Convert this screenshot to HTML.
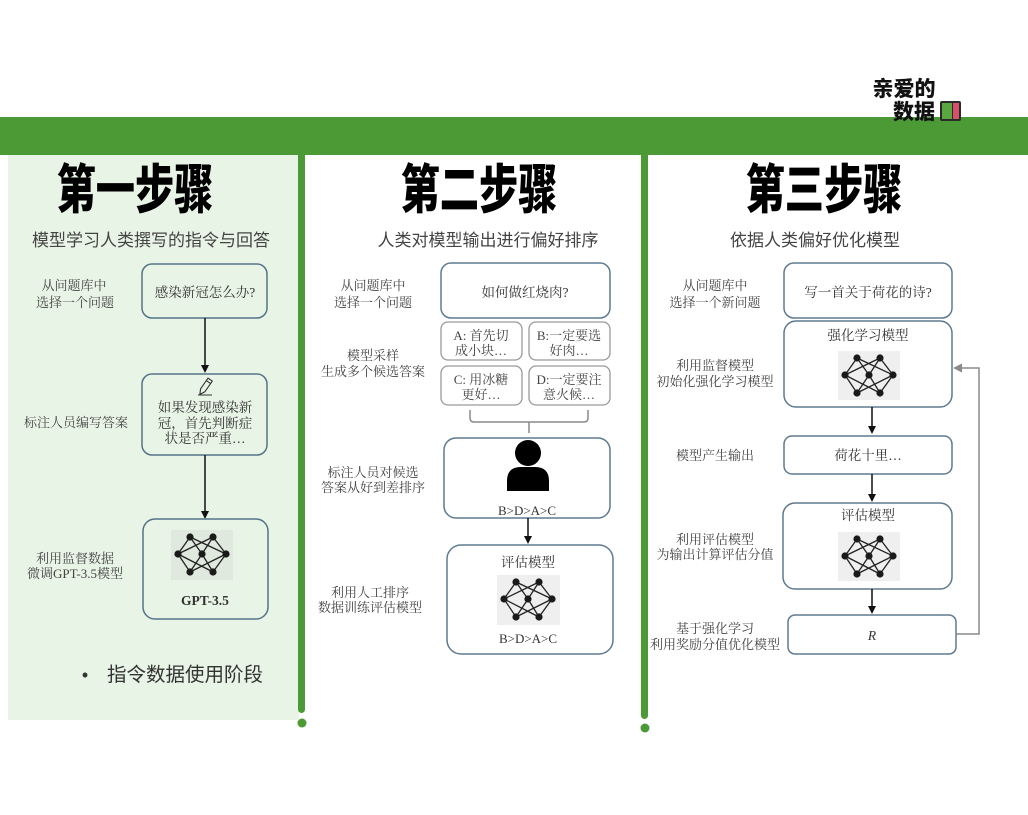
<!DOCTYPE html>
<html><head><meta charset="utf-8">
<style>
html,body{margin:0;padding:0;background:#fff;}
svg{display:block;}
.s{font-family:"Liberation Serif","Noto Serif CJK SC",serif;fill:#444;font-size:13px;text-anchor:middle;}
.b{font-family:"Liberation Serif","Noto Serif CJK SC",serif;fill:#333;font-size:13.5px;text-anchor:middle;}
.t{font-family:"Liberation Sans","Noto Sans CJK SC",sans-serif;font-weight:900;fill:#000;font-size:53px;text-anchor:middle;}
.st{font-family:"Liberation Sans","Noto Sans CJK SC",sans-serif;fill:#444;font-size:17px;text-anchor:middle;}
</style></head>
<body>
<svg width="1028" height="815" viewBox="0 0 1028 815" xmlns="http://www.w3.org/2000/svg">
<!-- green band -->
<rect x="0" y="117" width="1028" height="38" fill="#4b9a35"/>
<!-- left panel -->
<rect x="8" y="155" width="291" height="565" fill="#e8f4e5"/>
<!-- vertical bars -->
<rect x="298" y="150" width="7" height="563" rx="3.5" fill="#4b9a35"/>
<circle cx="302" cy="723" r="4.5" fill="#4b9a35"/>
<rect x="641" y="150" width="7" height="569" rx="3.5" fill="#4b9a35"/>
<circle cx="645" cy="728" r="4.5" fill="#4b9a35"/>

<!-- logo -->
<text x="904" y="96" font-family="Liberation Sans, Noto Sans CJK SC, sans-serif" font-weight="900" font-size="21" text-anchor="middle" fill="#111">亲爱的</text>
<text x="914" y="119" font-family="Liberation Sans, Noto Sans CJK SC, sans-serif" font-weight="900" font-size="21" text-anchor="middle" fill="#111">数据</text>
<rect x="940" y="101" width="21" height="20" rx="2" fill="#2a2a2a"/>
<rect x="942" y="103" width="10" height="16" fill="#5aa640"/>
<rect x="953" y="103" width="6" height="16" fill="#d9506a"/>

<!-- titles -->
<text class="t" transform="translate(135,208) scale(0.74,1)">第一步骤</text>
<text class="t" transform="translate(479,208) scale(0.74,1)">第二步骤</text>
<text class="t" transform="translate(824,208) scale(0.74,1)">第三步骤</text>
<text class="st" x="151" y="246">模型学习人类撰写的指令与回答</text>
<text class="st" x="488" y="246">人类对模型输出进行偏好排序</text>
<text class="st" x="815" y="246">依据人类偏好优化模型</text>

<!-- ===== Panel 1 ===== -->
<text class="s" x="74" y="290">从问题库中</text>
<text class="s" x="75" y="307">选择一个问题</text>
<rect x="142" y="264" width="125" height="54" rx="10" fill="#e8f4e5" stroke="#557488" stroke-width="1.5"/>
<text class="b" x="205" y="297">感染新冠怎么办?</text>
<line x1="205" y1="318" x2="205" y2="366" stroke="#111" stroke-width="1.5"/>
<path d="M201,365 L209,365 L205,373 Z" fill="#111"/>

<rect x="142" y="374" width="125" height="81" rx="10" fill="#e8f4e5" stroke="#557488" stroke-width="1.5"/>
<g transform="translate(205,387) rotate(-55)" fill="none" stroke="#333" stroke-width="1.1">
<path d="M-9,0 L-4,-2.6 L9,-2.6 L9,2.6 L-4,2.6 Z"/>
<line x1="6" y1="-2.6" x2="6" y2="2.6"/>
</g>
<line x1="198" y1="395" x2="212" y2="395" stroke="#333" stroke-width="1"/>
<text class="b" x="205" y="412">如果发现感染新</text>
<text class="b" x="205" y="428">冠，首先判断症</text>
<text class="b" x="205" y="443">状是否严重…</text>
<text class="s" x="76" y="427">标注人员编写答案</text>
<line x1="205" y1="455" x2="205" y2="512" stroke="#111" stroke-width="1.5"/>
<path d="M201,511 L209,511 L205,519 Z" fill="#111"/>

<rect x="143" y="519" width="125" height="100" rx="12" fill="#e8f4e5" stroke="#557488" stroke-width="1.5"/>
<g transform="translate(171,530)">
<rect width="62" height="50" fill="#dfe9dd"/>
<g stroke="#222" stroke-width="1.3">
<line x1="19" y1="7" x2="7" y2="24"/><line x1="19" y1="7" x2="31" y2="24"/><line x1="19" y1="7" x2="55" y2="24"/>
<line x1="42" y1="7" x2="7" y2="24"/><line x1="42" y1="7" x2="31" y2="24"/><line x1="42" y1="7" x2="55" y2="24"/>
<line x1="7" y1="24" x2="19" y2="42"/><line x1="7" y1="24" x2="42" y2="42"/><line x1="31" y1="24" x2="19" y2="42"/>
<line x1="31" y1="24" x2="42" y2="42"/><line x1="55" y1="24" x2="19" y2="42"/><line x1="55" y1="24" x2="42" y2="42"/>
</g>
<g fill="#1a1a1a"><circle cx="19" cy="7" r="3.6"/><circle cx="42" cy="7" r="3.6"/><circle cx="7" cy="24" r="3.6"/><circle cx="31" cy="24" r="3.6"/><circle cx="55" cy="24" r="3.6"/><circle cx="19" cy="42" r="3.6"/><circle cx="42" cy="42" r="3.6"/></g>
</g>
<text class="b" x="205" y="605" font-weight="bold" font-size="13">GPT-3.5</text>
<text class="s" x="75" y="563">利用监督数据</text>
<text class="s" x="75" y="578">微调GPT-3.5模型</text>
<text x="85" y="681" font-family="Liberation Sans, Noto Sans CJK SC, sans-serif" font-size="18" fill="#333" text-anchor="middle">•</text>
<text x="107" y="681" font-family="Liberation Sans, Noto Sans CJK SC, sans-serif" font-size="19.5" fill="#333">指令数据使用阶段</text>

<!-- ===== Panel 2 ===== -->
<text class="s" x="373" y="290">从问题库中</text>
<text class="s" x="373" y="307">选择一个问题</text>
<rect x="441" y="263" width="169" height="55" rx="10" fill="#fff" stroke="#5e7a8f" stroke-width="1.5"/>
<text class="b" x="525" y="297">如何做红烧肉?</text>
<g fill="#fff" stroke="#9a9a9a" stroke-width="1.3">
<rect x="441" y="322" width="81" height="38" rx="7"/>
<rect x="529" y="322" width="81" height="38" rx="7"/>
<rect x="441" y="366" width="81" height="39" rx="7"/>
<rect x="529" y="366" width="81" height="39" rx="7"/>
</g>
<g class="s" style="font-size:12.5px">
<text class="s" x="481" y="340">A: 首先切</text>
<text class="s" x="481" y="355">成小块…</text>
<text class="s" x="569" y="340">B:一定要选</text>
<text class="s" x="569" y="355">好肉…</text>
<text class="s" x="481" y="384">C: 用冰糖</text>
<text class="s" x="481" y="399">更好…</text>
<text class="s" x="569" y="384">D:一定要注</text>
<text class="s" x="569" y="399">意火候…</text>
</g>
<text class="s" x="373" y="360">模型采样</text>
<text class="s" x="373" y="376">生成多个候选答案</text>
<path d="M470,410 L470,418 Q470,422 474,422 L584,422 Q588,422 588,418 L588,410 M529,422 L529,433" fill="none" stroke="#888" stroke-width="1.5"/>
<rect x="444" y="438" width="166" height="80" rx="12" fill="#fff" stroke="#5e7a8f" stroke-width="1.5"/>
<circle cx="528" cy="453" r="13" fill="#000"/>
<path d="M507,491 L507,481 Q507,467 521,467 L535,467 Q549,467 549,481 L549,491 Z" fill="#000"/>
<text class="b" x="527" y="515" style="font-size:13px">B&gt;D&gt;A&gt;C</text>
<text class="s" x="373" y="477">标注人员对候选</text>
<text class="s" x="373" y="492">答案从好到差排序</text>
<line x1="528" y1="518" x2="528" y2="537" stroke="#111" stroke-width="1.5"/>
<path d="M524,536 L532,536 L528,544 Z" fill="#111"/>

<rect x="447" y="545" width="166" height="109" rx="14" fill="#fff" stroke="#5e7a8f" stroke-width="1.5"/>
<text class="b" x="528" y="567">评估模型</text>
<g transform="translate(497,575)">
<rect width="63" height="50" fill="#efefef"/>
<g stroke="#222" stroke-width="1.3">
<line x1="19" y1="7" x2="7" y2="24"/><line x1="19" y1="7" x2="31" y2="24"/><line x1="19" y1="7" x2="55" y2="24"/>
<line x1="42" y1="7" x2="7" y2="24"/><line x1="42" y1="7" x2="31" y2="24"/><line x1="42" y1="7" x2="55" y2="24"/>
<line x1="7" y1="24" x2="19" y2="42"/><line x1="7" y1="24" x2="42" y2="42"/><line x1="31" y1="24" x2="19" y2="42"/>
<line x1="31" y1="24" x2="42" y2="42"/><line x1="55" y1="24" x2="19" y2="42"/><line x1="55" y1="24" x2="42" y2="42"/>
</g>
<g fill="#1a1a1a"><circle cx="19" cy="7" r="3.6"/><circle cx="42" cy="7" r="3.6"/><circle cx="7" cy="24" r="3.6"/><circle cx="31" cy="24" r="3.6"/><circle cx="55" cy="24" r="3.6"/><circle cx="19" cy="42" r="3.6"/><circle cx="42" cy="42" r="3.6"/></g>
</g>
<text class="b" x="528" y="643" style="font-size:13px">B&gt;D&gt;A&gt;C</text>
<text class="s" x="370" y="597">利用人工排序</text>
<text class="s" x="370" y="612">数据训练评估模型</text>

<!-- ===== Panel 3 ===== -->
<text class="s" x="715" y="290">从问题库中</text>
<text class="s" x="715" y="307">选择一个新问题</text>
<rect x="784" y="263" width="168" height="55" rx="10" fill="#fff" stroke="#5e7a8f" stroke-width="1.5"/>
<text class="b" x="868" y="297">写一首关于荷花的诗?</text>

<rect x="784" y="321" width="168" height="86" rx="12" fill="#fff" stroke="#5e7a8f" stroke-width="1.5"/>
<text class="b" x="868" y="340">强化学习模型</text>
<g transform="translate(838,351)">
<rect width="62" height="49" fill="#efefef"/>
<g stroke="#222" stroke-width="1.3">
<line x1="19" y1="7" x2="7" y2="24"/><line x1="19" y1="7" x2="31" y2="24"/><line x1="19" y1="7" x2="55" y2="24"/>
<line x1="42" y1="7" x2="7" y2="24"/><line x1="42" y1="7" x2="31" y2="24"/><line x1="42" y1="7" x2="55" y2="24"/>
<line x1="7" y1="24" x2="19" y2="42"/><line x1="7" y1="24" x2="42" y2="42"/><line x1="31" y1="24" x2="19" y2="42"/>
<line x1="31" y1="24" x2="42" y2="42"/><line x1="55" y1="24" x2="19" y2="42"/><line x1="55" y1="24" x2="42" y2="42"/>
</g>
<g fill="#1a1a1a"><circle cx="19" cy="7" r="3.6"/><circle cx="42" cy="7" r="3.6"/><circle cx="7" cy="24" r="3.6"/><circle cx="31" cy="24" r="3.6"/><circle cx="55" cy="24" r="3.6"/><circle cx="19" cy="42" r="3.6"/><circle cx="42" cy="42" r="3.6"/></g>
</g>
<text class="s" x="715" y="370">利用监督模型</text>
<text class="s" x="715" y="386">初始化强化学习模型</text>
<line x1="872" y1="407" x2="872" y2="427" stroke="#111" stroke-width="1.5"/>
<path d="M868,426 L876,426 L872,434 Z" fill="#111"/>

<rect x="784" y="436" width="168" height="38" rx="8" fill="#fff" stroke="#5e7a8f" stroke-width="1.5"/>
<text class="b" x="868" y="460">荷花十里…</text>
<text class="s" x="715" y="460">模型产生输出</text>
<line x1="872" y1="474" x2="872" y2="495" stroke="#111" stroke-width="1.5"/>
<path d="M868,494 L876,494 L872,502 Z" fill="#111"/>

<rect x="783" y="503" width="169" height="86" rx="12" fill="#fff" stroke="#5e7a8f" stroke-width="1.5"/>
<text class="b" x="868" y="520">评估模型</text>
<g transform="translate(838,532)">
<rect width="62" height="49" fill="#efefef"/>
<g stroke="#222" stroke-width="1.3">
<line x1="19" y1="7" x2="7" y2="24"/><line x1="19" y1="7" x2="31" y2="24"/><line x1="19" y1="7" x2="55" y2="24"/>
<line x1="42" y1="7" x2="7" y2="24"/><line x1="42" y1="7" x2="31" y2="24"/><line x1="42" y1="7" x2="55" y2="24"/>
<line x1="7" y1="24" x2="19" y2="42"/><line x1="7" y1="24" x2="42" y2="42"/><line x1="31" y1="24" x2="19" y2="42"/>
<line x1="31" y1="24" x2="42" y2="42"/><line x1="55" y1="24" x2="19" y2="42"/><line x1="55" y1="24" x2="42" y2="42"/>
</g>
<g fill="#1a1a1a"><circle cx="19" cy="7" r="3.6"/><circle cx="42" cy="7" r="3.6"/><circle cx="7" cy="24" r="3.6"/><circle cx="31" cy="24" r="3.6"/><circle cx="55" cy="24" r="3.6"/><circle cx="19" cy="42" r="3.6"/><circle cx="42" cy="42" r="3.6"/></g>
</g>
<text class="s" x="715" y="544">利用评估模型</text>
<text class="s" x="715" y="559">为输出计算评估分值</text>
<line x1="872" y1="589" x2="872" y2="607" stroke="#111" stroke-width="1.5"/>
<path d="M868,606 L876,606 L872,614 Z" fill="#111"/>

<rect x="788" y="615" width="168" height="39" rx="7" fill="#fff" stroke="#5e7a8f" stroke-width="1.5"/>
<text class="b" x="872" y="640" font-style="italic">R</text>
<text class="s" x="715" y="633">基于强化学习</text>
<text class="s" x="715" y="649">利用奖励分值优化模型</text>

<!-- feedback arrow -->
<path d="M956,634 L979,634 L979,368 L960,368" fill="none" stroke="#8a8a8a" stroke-width="1.5"/>
<path d="M953,368 L962,363.5 L962,372.5 Z" fill="#8a8a8a"/>
</svg>
</body></html>
